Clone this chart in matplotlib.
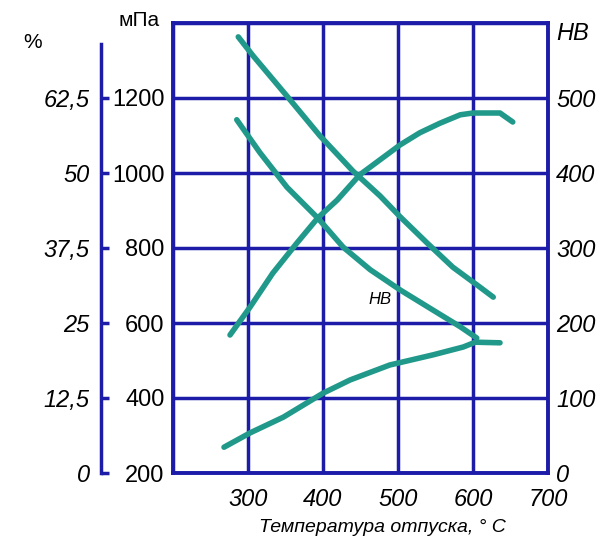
import matplotlib
matplotlib.use('Agg')
import matplotlib.pyplot as plt

plt.rcParams['font.family'] = ['Liberation Sans', 'DejaVu Sans']

# tempering temperature, deg C
t_sigma = [287, 307, 352, 396, 440, 476, 503, 539, 573, 609, 627]
sigma = [1363, 1312, 1205, 1099, 1005, 939, 883, 813, 749, 696, 669]   # MPa

t_hb = [285, 316, 352, 393, 427, 463, 503, 547, 583, 605]
hb = [471, 427, 381, 340, 301, 271, 244, 217, 195, 180]                # HB

t_psi = [276, 303, 333, 365, 393, 419, 449, 476, 503, 529, 556, 583, 600, 636, 653]
psi = [23.0, 27.7, 33.3, 38.3, 42.5, 45.5, 49.7, 52.2, 54.7, 56.7, 58.3, 59.7, 60.0, 60.0, 58.5]

t_delta = [268, 303, 347, 400, 436, 489, 547, 587, 603, 636]
delta = [4.3, 6.7, 9.3, 13.3, 15.5, 18.0, 19.7, 21.0, 21.8, 21.7]      # %

x_ticks = [200, 300, 400, 500, 600, 700]
x_labels = ['', '300', '400', '500', '600', '700']
mpa_ticks = [200, 400, 600, 800, 1000, 1200, 1400]
mpa_labels = ['200', '400', '600', '800', '1000', '1200', '']
hb_ticks = [0, 100, 200, 300, 400, 500]
pct_ticks = [0, 12.5, 25, 37.5, 50, 62.5]
pct_labels = ['0', '12,5', '25', '37,5', '50', '62,5']

blue = '#1c1ca8'
teal = '#20998b'
fs = 17

fig = plt.figure(figsize=(6.06, 5.42), dpi=100)
ax = fig.add_axes([173 / 606, 69 / 542, 375 / 606, 450 / 542])
ax.set_xlim(200, 700)
ax.set_ylim(200, 1400)
ax.set_xticks(x_ticks)
ax.set_xticklabels(x_labels, fontsize=fs, style='italic')
ax.set_yticks(mpa_ticks)
ax.set_yticklabels(mpa_labels, fontsize=fs)
ax.tick_params(length=0)
ax.tick_params(axis='x', pad=11)
ax.tick_params(axis='y', pad=6)
ax.grid(True, color=blue, lw=2.5)
for s in ax.spines.values():
    s.set_color(blue)
    s.set_linewidth(2.8)

# HB axis on the right
ax2 = ax.twinx()
ax2.set_ylim(0, 600)
ax2.set_yticks(hb_ticks)
ax2.set_yticklabels([str(v) for v in hb_ticks], fontsize=fs, style='italic')
ax2.tick_params(length=0, pad=6)
for s in ax2.spines.values():
    s.set_visible(False)

# % axis, outer left
ax3 = ax.twinx()
ax3.set_ylim(0, 75)
ax3.yaxis.set_ticks_position('left')
ax3.yaxis.set_label_position('left')
for k in ['top', 'right', 'bottom']:
    ax3.spines[k].set_visible(False)
ax3.spines['left'].set_visible(True)
ax3.spines['left'].set_position(('outward', 72 * 72 / 100))
ax3.spines['left'].set_bounds(0, 71.5)
ax3.spines['left'].set_color(blue)
ax3.spines['left'].set_linewidth(2.5)
ax3.set_yticks(pct_ticks)
ax3.set_yticklabels(pct_labels, fontsize=fs, style='italic')
ax3.tick_params(axis='y', direction='in', length=6, width=2.5, color=blue, pad=8)

kw = dict(color=teal, lw=4, solid_capstyle='round', solid_joinstyle='round')
ax.plot(t_sigma, sigma, **kw)
ax2.plot(t_hb, hb, **kw)
ax3.plot(t_psi, psi, **kw)
ax3.plot(t_delta, delta, **kw)

ax2.text(476, 231, 'НВ', fontsize=12, style='italic', ha='center', va='center')

fig.text(33 / 606, 1 - 42 / 542, '%', fontsize=15, ha='center', va='center')
fig.text(139 / 606, 1 - 21 / 542, 'мПа', fontsize=15, ha='center', va='center')
fig.text(573 / 606, 1 - 33 / 542, 'НВ', fontsize=17, style='italic', ha='center', va='center')
fig.text(382 / 606, 1 - 527 / 542, 'Температура отпуска, ° С', fontsize=14,
         style='italic', ha='center', va='center')

fig.savefig('out.png', dpi=100)
